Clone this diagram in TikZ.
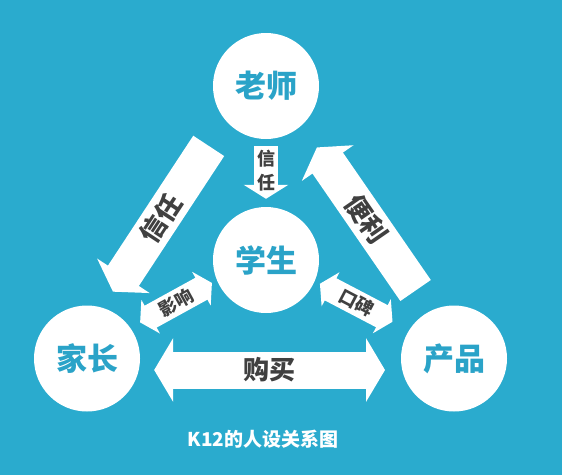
\documentclass[tikz,border=0pt]{standalone}
\usepackage{fontspec}
\setmainfont{Noto Sans CJK SC}
\usetikzlibrary{calc,arrows.meta}
\definecolor{sea}{HTML}{2AABCE}
\definecolor{seatext}{HTML}{2AA3C8}
\definecolor{ink}{HTML}{404040}
\newcommand*{\rad}{53pt}
\newcommand*{\fat}{37pt}
\newcommand*{\slim}{25pt}
\tikzset{
	person/.style={
		circle,
		minimum size=2*\rad,
		inner sep=0pt,
		fill=white,
		text=seatext,
		font=\bfseries\fontsize{31}{31}\selectfont
	},
	bigarrow/.style={
		draw=white,
		line width=\fat,
		-{Triangle[width=62pt,length=19pt]}
	},
	bigtwoway/.style={
		draw=white,
		line width=\fat,
		{Triangle[width=63pt,length=19pt]}-{Triangle[width=63pt,length=19pt]}
	},
	slimarrow/.style={
		draw=white,
		line width=24pt,
		-{Triangle[width=44pt,length=14pt]}
	},
	slimtwoway/.style={
		draw=white,
		line width=\slim,
		{Triangle[width=38pt,length=12pt]}-{Triangle[width=38pt,length=12pt]}
	},
	bigtext/.style={
		text=ink,
		font=\bfseries\fontsize{26}{26}\selectfont
	},
	smalltext/.style={
		text=ink,
		font=\bfseries\fontsize{18}{24}\selectfont
	},
	caption/.style={
		text=white,
		font=\bfseries\fontsize{19}{19}\selectfont
	}
}

\begin{document}
\begin{tikzpicture}[x=1pt,y=-1pt]
	\fill[sea] (0,0) rectangle (562,475);
	\node (teacher) [person] at (266,86) {老师};
	\node (student) [person] at (266,260) {学生};
	\node (parent) [person] at (87,358.5) {家长};
	\node (product) [person] at (454,358.5) {产品};
	\coordinate (trust1) at ($(teacher)!0.25!(parent)!15pt!270:(parent)$);
	\coordinate (trust2) at ($(teacher)!0.785!(parent)!15pt!270:(parent)$);
	\coordinate (ease1) at ($(product)!0.235!(teacher)!7pt!270:(teacher)$);
	\coordinate (ease2) at ($(product)!0.76!(teacher)!7pt!270:(teacher)$);
	\coordinate (sway1) at ($(parent)!0.313!(student)!6pt!90:(student)$);
	\coordinate (sway2) at ($(parent)!0.714!(student)!6pt!90:(student)$);
	\coordinate (word1) at ($(product)!0.337!(student)!4pt!270:(student)$);
	\coordinate (word2) at ($(product)!0.723!(student)!4pt!270:(student)$);
	\coordinate (buy1) at ($(parent)!0.183!(product)!11.5pt!270:(product)$);
	\coordinate (buy2) at ($(parent)!0.812!(product)!11.5pt!270:(product)$);
	\draw[bigarrow] (trust1) -- (trust2) node (trustlbl) [midway,sloped,bigtext] {信任};
	\draw[bigarrow] (ease1) -- (ease2) node (easelbl) [midway,sloped,bigtext] {便利};
	\draw[bigtwoway] (buy1) -- (buy2) node (buylbl) [midway,bigtext] {购买};
	\draw[slimtwoway] (sway1) -- (sway2) node (swaylbl) [midway,sloped,smalltext] {影响};
	\draw[slimtwoway] (word1) -- (word2) node (wordlbl) [midway,sloped,smalltext] {口碑};
	\draw[slimarrow,shorten <=7pt,shorten >=8pt] (teacher) -- (student) node (teachlbl) [midway,yshift=2pt,align=center,smalltext] {信\\任};
	\node (title) [caption] at (263,439) {K12的人设关系图};
\end{tikzpicture}
\end{document}
